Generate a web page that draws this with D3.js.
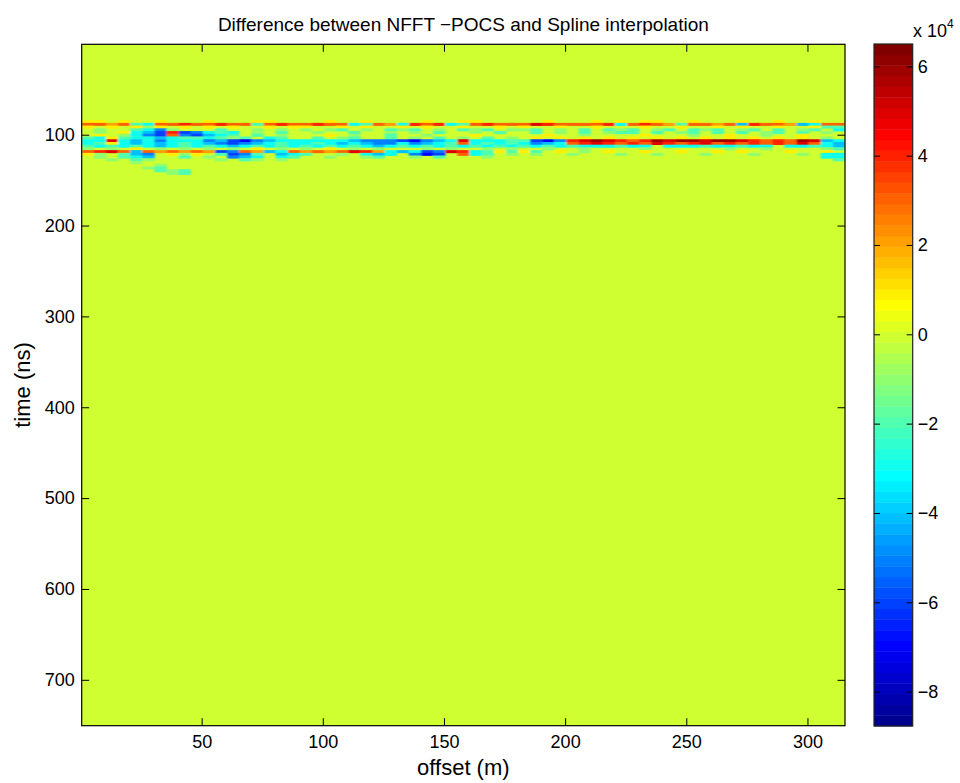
<!DOCTYPE html>
<html><head><meta charset="utf-8">
<script src="https://cdn.jsdelivr.net/npm/d3@7"></script>
<style>
body{margin:0;background:#fff}
text{font-family:"Liberation Sans",Arial,Helvetica,sans-serif;fill:#000}
</style>
</head><body>
<svg id="chart" width="960" height="783"></svg>
<script>
// ---------------- data ----------------
const titleText = "Difference between NFFT \u2212POCS and Spline interpolation";
const xLabelText = "offset (m)";
const yLabelText = "time (ns)";
const offsetTicks = [50, 100, 150, 200, 250, 300];
const timeTicks = [100, 200, 300, 400, 500, 600, 700];
const colorTicks = [-8, -6, -4, -2, 0, 2, 4, 6];       // x 10^4
const offsetExtent = [0.5, 315.5];                      // m
const timeExtent = [0.5, 750.5];                        // ns
const colorLimits = [-8.77, 6.5];                       // x 10^4
const bandColWidth = 5;                                 // m per cell
const bandRowHeight = 3;                                // ns per cell
const bandTimes = [84, 87, 90, 93, 96, 99, 102, 105, 108, 111, 114, 117, 120, 123, 126, 129, 132, 135, 138, 141];
// difference values (x 10^4) per cell: '.'=0, '1'..'6' positive, 'a'..'h' = -1..-8
const bandRows = [
  "11.1..1.. .1...11.. ..1..1... .1..11... ..1...1.1 .11..1... 1..1..1..",
  "3323bc334 33433b343 3433cb32c 434cb3433 35433334c 3432b3323 d4332dc33",
  "1.1.1a1.1 .1.1..1.1 1..1.1..1 .1..1..1. 1..1..1.. .1..1..1. 1..1..1bb",
  ".a..bcea. ..b..a.a. a.ab.a.ba b.a.bab.a ab.a.b.ba b.ab.bab. ab.b.ab.c",
  ".a.1cdf4f ecbc.a.b. .a..b..a. a.b..a.b. .b.a.b.ab b.b.ab.b. b.ab.b.a.",
  ".1.acef3e fdcb.b.a. ..1.a..b. .a...1... ..1..a... .1...a..1 ..a..1...",
  "bc1bccdcb bcbab.cb. .b.ab..b. a.b.a.b.a .1.1.1.1. 1.1.1.1.1 .1.1.1.a.",
  "cc5cdcecc cedfgedcc ccccdeeef gedc5cccb bfge45654 346566566 5434365dc",
  "cb1cdcdcb cdefedcbc cbcdcdeec edcb3cbcb cedc34543 435434534 3434353cd",
  "bcbcbcdcb cbcdcbcbc bcbcbcdcb cbcbcbcbc bcbcbcccb cc.cccbcc bcc.ccbcd",
  "a.a.1.a.a .a.a.1.a. a.1.a.a.. .a.a..a.a ..a..a... .a......a ..a....ab",
  "3453d3232 32fe32dc3 2323542cd cfe54cb1b 1b.1.a.1. .1..1..1. 1...1..1.",
  "1a.bde.1a 1.bfeb.dc b..a.cdc. egf.3cb.a .a..a...a ..a...a.. .a...a.cc",
  ".a.bcd..b .a.edc.cb ..a..ab.. a.b...a.. ......... ......... .......cc",
  "..a.ba... ..a.ba.a. ......... ......... ......... ......... ........b",
  "....a.... ......... ......... ......... ......... ......... .........",
  "......a.. ......... ......... ......... ......... ......... .........",
  ".....ab.. ......... ......... ......... ......... ......... .........",
  "......bab ......... ......... ......... ......... ......... .........",
  ".......ab ......... ......... ......... ......... ......... ........."
];
const codeValues = {".":0,"1":1,"2":2,"3":3,"4":4,"5":5,"6":6,
  "a":-1,"b":-2,"c":-3,"d":-4,"e":-5,"f":-6,"g":-7,"h":-8};

// ---------------- MATLAB jet(64) ----------------
function jet(m) {
  const n = Math.ceil(m / 4), u = [];
  for (let i = 1; i <= n; i++) u.push(i / n);
  for (let i = 1; i < n; i++) u.push(1);
  for (let i = n; i >= 1; i--) u.push(i / n);
  const g0 = Math.ceil(n / 2) - (m % 4 === 1 ? 1 : 0);
  const R = new Array(m).fill(0), G = new Array(m).fill(0), B = new Array(m).fill(0);
  for (let k = 0; k < u.length; k++) {
    const gi = g0 + k + 1, ri = gi + n, bi = gi - n;
    if (gi >= 1 && gi <= m) G[gi - 1] = u[k];
    if (ri >= 1 && ri <= m) R[ri - 1] = u[k];
    if (bi >= 1 && bi <= m) B[bi - 1] = u[k];
  }
  return d3.range(m).map(i => d3.rgb(R[i] * 255, G[i] * 255, B[i] * 255).formatHex());
}
const jetColors = jet(64);

// ---------------- layout ----------------
const plot = {left: 81.7, right: 845, top: 44.3, bottom: 725.7};
const cbar = {left: 874, right: 912.7, top: 44, bottom: 726};
const svg = d3.select("#chart");

const x = d3.scaleLinear().domain(offsetExtent).range([plot.left, plot.right]);
const y = d3.scaleLinear().domain(timeExtent).range([plot.top, plot.bottom]);
const color = d3.scaleQuantize().domain(colorLimits).range(jetColors);

// cells
const cells = [];
bandRows.forEach((row, r) => {
  const chars = row.replace(/\s+/g, "").split("");
  chars.forEach((ch, j) => {
    const v = codeValues[ch] || 0;
    if (v !== 0) cells.push({off: offsetExtent[0] + j * bandColWidth, t: bandTimes[r], v});
  });
});

const defs = svg.append("defs");
defs.append("clipPath").attr("id", "plotclip").append("rect")
  .attr("x", plot.left).attr("y", plot.top)
  .attr("width", plot.right - plot.left).attr("height", plot.bottom - plot.top);
defs.append("filter").attr("id", "soft").attr("x", "-5%").attr("y", "-50%").attr("width", "110%").attr("height", "200%")
  .append("feGaussianBlur").attr("stdDeviation", "0.9 0.6");

const img = svg.append("g").attr("clip-path", "url(#plotclip)");
img.append("rect")
  .attr("x", x(offsetExtent[0])).attr("y", y(timeExtent[0]))
  .attr("width", x(offsetExtent[1]) - x(offsetExtent[0]))
  .attr("height", y(timeExtent[1]) - y(timeExtent[0]))
  .attr("fill", color(0));
img.append("g").attr("filter", "url(#soft)")
  .selectAll("rect").data(cells).join("rect")
  .attr("x", d => x(d.off))
  .attr("y", d => y(d.t))
  .attr("width", d => x(d.off + bandColWidth) - x(d.off) + 0.3)
  .attr("height", d => y(d.t + bandRowHeight) - y(d.t) + 0.3)
  .attr("fill", d => color(d.v));

// axes
function styleAxis(g) {
  g.select(".domain").remove();
  g.selectAll("line").attr("stroke", "#000").attr("stroke-width", 1);
  g.selectAll("text").attr("font-size", 18).attr("font-family", null);
}
svg.append("g").attr("transform", `translate(0,${plot.bottom})`)
  .call(d3.axisBottom(x).tickValues(offsetTicks).tickSizeInner(-7.5).tickSizeOuter(0).tickPadding(10))
  .call(styleAxis);
svg.append("g").attr("transform", `translate(0,${plot.top})`)
  .call(d3.axisTop(x).tickValues(offsetTicks).tickSizeInner(-7.5).tickSizeOuter(0).tickFormat(""))
  .call(styleAxis);
svg.append("g").attr("transform", `translate(${plot.left},0)`)
  .call(d3.axisLeft(y).tickValues(timeTicks).tickSizeInner(-7.5).tickSizeOuter(0).tickPadding(7))
  .call(styleAxis);
svg.append("g").attr("transform", `translate(${plot.right},0)`)
  .call(d3.axisRight(y).tickValues(timeTicks).tickSizeInner(-7.5).tickSizeOuter(0).tickFormat(""))
  .call(styleAxis);

svg.append("rect")
  .attr("x", plot.left).attr("y", plot.top)
  .attr("width", plot.right - plot.left).attr("height", plot.bottom - plot.top)
  .attr("fill", "none").attr("stroke", "#000").attr("stroke-width", 1.2);

// labels
svg.append("text").attr("x", (plot.left + plot.right) / 2).attr("y", 31)
  .attr("text-anchor", "middle").attr("font-size", 19).text(titleText);
svg.append("text").attr("x", (plot.left + plot.right) / 2).attr("y", 775)
  .attr("text-anchor", "middle").attr("font-size", 22).text(xLabelText);
svg.append("text").attr("transform", "translate(30,385) rotate(-90)")
  .attr("text-anchor", "middle").attr("font-size", 22).text(yLabelText);

// colorbar
const cy = d3.scaleLinear().domain(colorLimits).range([cbar.bottom, cbar.top]);
const step = (colorLimits[1] - colorLimits[0]) / jetColors.length;
svg.append("g").selectAll("rect").data(jetColors).join("rect")
  .attr("x", cbar.left).attr("width", cbar.right - cbar.left)
  .attr("y", (d, i) => cy(colorLimits[0] + (i + 1) * step))
  .attr("height", (d, i) => cy(colorLimits[0] + i * step) - cy(colorLimits[0] + (i + 1) * step) + 0.4)
  .attr("fill", d => d);
svg.append("g").attr("transform", `translate(${cbar.right},0)`)
  .call(d3.axisRight(cy).tickValues(colorTicks).tickSizeInner(-6).tickSizeOuter(0).tickPadding(5)
    .tickFormat(d => d < 0 ? "\u2212" + Math.abs(d) : String(d)))
  .call(styleAxis);
svg.append("g").attr("transform", `translate(${cbar.left},0)`)
  .call(d3.axisLeft(cy).tickValues(colorTicks).tickSizeInner(-6).tickSizeOuter(0).tickFormat(""))
  .call(styleAxis);
svg.append("rect")
  .attr("x", cbar.left).attr("y", cbar.top)
  .attr("width", cbar.right - cbar.left).attr("height", cbar.bottom - cbar.top)
  .attr("fill", "none").attr("stroke", "#222").attr("stroke-width", 1.2);
const exp = svg.append("text").attr("x", 913).attr("y", 37).attr("font-size", 18);
exp.append("tspan").text("x 10");
exp.append("tspan").attr("font-size", 12).attr("dy", -9).text("4");
</script>
</body></html>
